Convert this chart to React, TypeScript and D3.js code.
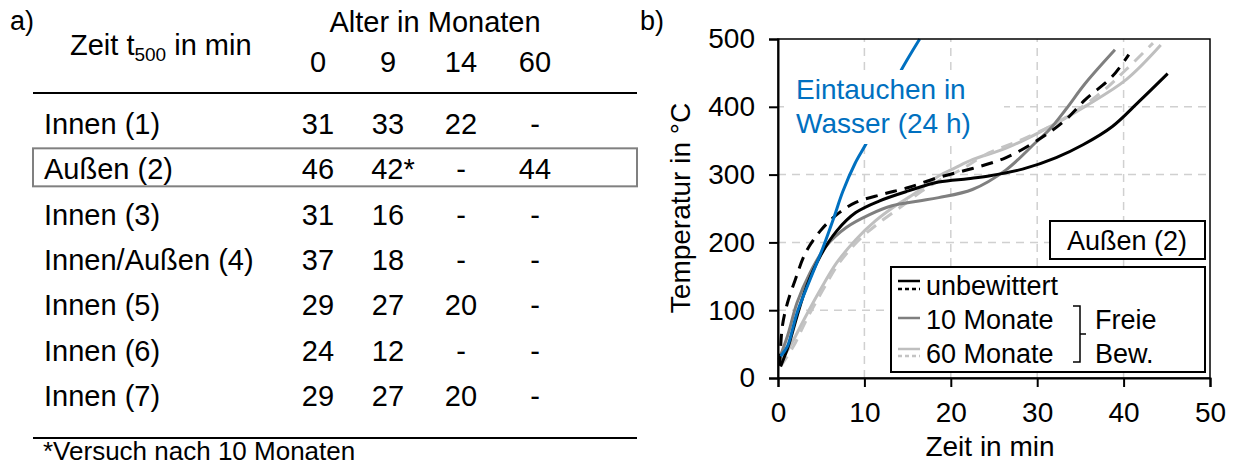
import React, { useEffect, useRef } from "react";
import * as d3 from "d3";

// table a)
const ageHeaders = ["0", "9", "14", "60"];
const rowLabels = ["Innen (1)", "Außen (2)", "Innen (3)", "Innen/Außen (4)", "Innen (5)", "Innen (6)", "Innen (7)"];
const t500Age0 = ["31", "46", "31", "37", "29", "24", "29"];
const t500Age9 = ["33", "42*", "16", "18", "27", "12", "27"];
const t500Age14 = ["22", "-", "-", "-", "20", "-", "20"];
const t500Age60 = ["-", "44", "-", "-", "-", "-", "-"];
const highlightRow = 1;

// chart b) : [Zeit in min, Temperatur in °C]
const unbewittertSolid: [number, number][] = [
  [0.3, 17], [1.2, 47], [2.2, 91], [3.3, 135], [4.9, 180], [6.8, 217], [9, 244], [11.7, 261],
  [15.1, 276], [18.6, 289], [22, 294], [24.4, 298], [28.3, 308], [32.2, 325], [35.3, 344],
  [38.7, 371], [41.8, 408], [45.1, 449],
];
const unbewittertDashed: [number, number][] = [
  [0.2, 18], [0.5, 76], [1.1, 111], [2, 145], [3.2, 185], [4.9, 217], [6.8, 241], [9, 259],
  [12.1, 271], [15.1, 281], [18.6, 296], [22.5, 309], [26.4, 325], [30.2, 352], [33.3, 381],
  [35.6, 411], [38.7, 445], [40.6, 477],
];
const monate10: [number, number][] = [
  [0.1, 27], [1.1, 62], [2.2, 111], [3.7, 155], [5.6, 195], [7.9, 222], [10.6, 241], [13.2, 254],
  [16.3, 261], [18.6, 266], [22.5, 278], [26.4, 307], [29.8, 347], [31.4, 366], [33.3, 396],
  [35.6, 435], [39, 484],
];
const monate60Solid: [number, number][] = [
  [0.1, 22], [1.4, 47], [3, 86], [4.9, 130], [6.8, 170], [9, 204], [11.3, 232], [13.6, 254],
  [15.9, 273], [18.6, 298], [20.5, 310], [22.5, 322], [26.4, 339], [30.2, 362], [35.6, 401],
  [40.3, 440], [44.3, 491],
];
const monate60Dashed: [number, number][] = [
  [0.3, 17], [1.8, 47], [3.3, 86], [5.2, 130], [7.1, 170], [9.4, 204], [11.7, 229], [14.4, 254],
  [16.7, 276], [18.9, 293], [21, 306], [24.4, 332], [28.3, 352], [33.3, 384], [37.6, 423],
  [40.3, 455], [43.4, 494],
];
const wasser: [number, number][] = [
  [0.3, 32], [1.1, 47], [2.2, 96], [3.7, 145], [5.2, 192], [6.4, 234], [7.5, 275], [8.9, 316],
  [10.3, 348], [12.1, 397], [14, 448], [16.4, 500],
];

const xTicks = [0, 10, 20, 30, 40, 50];
const yTicks = [0, 100, 200, 300, 400, 500];
const legendLabels = ["unbewittert", "10 Monate", "60 Monate"];
const bracketLabels = ["Freie", "Bew."];

const FONT = "'Liberation Sans', Arial, sans-serif";

function App() {
  const svgRef = useRef<SVGSVGElement>(null);

  useEffect(() => {
    if (!svgRef.current) return;
    const svg = d3.select(svgRef.current);
    svg.selectAll("*").remove();
    svg.style("font-family", FONT);

    // ---------- a) table ----------
    const fs = 29;
    const colX = [318, 388, 461, 535];
    const columns = [t500Age0, t500Age9, t500Age14, t500Age60];
    const rowY = d3.scaleLinear().domain([0, 6]).range([124, 396]);

    svg.append("text").attr("x", 10).attr("y", 30).attr("font-size", 27).text("a)");
    const zt = svg.append("text").attr("x", 70).attr("y", 55).attr("font-size", fs);
    zt.append("tspan").text("Zeit t");
    zt.append("tspan").attr("font-size", 19).attr("dy", 6).text("500");
    zt.append("tspan").attr("dy", -6).text(" in min");
    svg.append("text").attr("x", 435).attr("y", 32).attr("font-size", fs)
      .attr("text-anchor", "middle").text("Alter in Monaten");
    ageHeaders.forEach((h, i) => {
      svg.append("text").attr("x", colX[i]).attr("y", 72).attr("font-size", fs)
        .attr("text-anchor", "middle").text(h);
    });
    svg.append("line").attr("x1", 33).attr("x2", 637).attr("y1", 93).attr("y2", 93)
      .attr("stroke", "#000").attr("stroke-width", 2);
    svg.append("line").attr("x1", 33).attr("x2", 637).attr("y1", 438).attr("y2", 438)
      .attr("stroke", "#000").attr("stroke-width", 2);

    svg.append("rect").attr("x", 33).attr("y", rowY(highlightRow) - 21).attr("width", 604).attr("height", 38)
      .attr("fill", "none").attr("stroke", "#808080").attr("stroke-width", 2);

    rowLabels.forEach((lab, r) => {
      const y = rowY(r) + 10;
      svg.append("text").attr("x", 44).attr("y", y).attr("font-size", fs).text(lab);
      columns.forEach((col, c) => {
        const v = col[r];
        const star = v.endsWith("*");
        svg.append("text").attr("x", colX[c] + (star ? 5 : 0)).attr("y", y).attr("font-size", fs)
          .attr("text-anchor", "middle").text(v);
      });
    });
    svg.append("text").attr("x", 43).attr("y", 460).attr("font-size", 26).text("*Versuch nach 10 Monaten");

    // ---------- b) chart ----------
    const x = d3.scaleLinear().domain([0, 50]).range([778, 1210]);
    const y = d3.scaleLinear().domain([0, 500]).range([378, 39]);

    svg.append("text").attr("x", 640).attr("y", 30).attr("font-size", 27).text("b)");

    const grid = svg.append("g").attr("stroke", "#d0d0d0").attr("stroke-width", 1.5).attr("stroke-dasharray", "8,6");
    xTicks.filter((t) => t > 0 && t < 50).forEach((t) => {
      grid.append("line").attr("x1", x(t)).attr("x2", x(t)).attr("y1", y(0)).attr("y2", y(500));
    });
    yTicks.filter((t) => t > 0 && t < 500).forEach((t) => {
      grid.append("line").attr("x1", x(0)).attr("x2", x(50)).attr("y1", y(t)).attr("y2", y(t));
    });

    const line = d3.line<[number, number]>()
      .x((d) => x(d[0]))
      .y((d) => y(d[1]))
      .curve(d3.curveCatmullRom.alpha(0.5));

    const series = [
      { data: monate60Solid, color: "#bfbfbf", dash: null },
      { data: monate60Dashed, color: "#c4c4c4", dash: "12,8" },
      { data: monate10, color: "#7f7f7f", dash: null },
      { data: unbewittertSolid, color: "#000", dash: null },
      { data: unbewittertDashed, color: "#000", dash: "12,8" },
      { data: wasser, color: "#0070c0", dash: null },
    ];
    series.forEach((s) => {
      svg.append("path").attr("d", line(s.data)).attr("fill", "none")
        .attr("stroke", s.color).attr("stroke-width", 3)
        .attr("stroke-dasharray", s.dash);
    });

    // label box over the curve
    svg.append("rect").attr("x", 784).attr("y", 70).attr("width", 220).attr("height", 74).attr("fill", "#fff");
    svg.append("text").attr("x", 796).attr("y", 99).attr("font-size", 28).attr("fill", "#0070c0").text("Eintauchen in");
    svg.append("text").attr("x", 796).attr("y", 133).attr("font-size", 28).attr("fill", "#0070c0").text("Wasser (24 h)");

    // frame + axes
    svg.append("rect").attr("x", x(0)).attr("y", y(500)).attr("width", x(50) - x(0)).attr("height", y(0) - y(500))
      .attr("fill", "none").attr("stroke", "#000").attr("stroke-width", 1.5);

    const yAxis = svg.append("g").attr("transform", `translate(${x(0)},0)`)
      .call(d3.axisLeft(y).tickValues(yTicks).tickSize(9).tickPadding(14));
    const xAxis = svg.append("g").attr("transform", `translate(0,${y(0)})`)
      .call(d3.axisBottom(x).tickValues(xTicks).tickSize(9).tickPadding(10));
    [yAxis, xAxis].forEach((a) => {
      a.select(".domain").attr("stroke-width", 2);
      a.selectAll(".tick line").attr("stroke-width", 2);
      a.selectAll("text").attr("font-size", 28).attr("font-family", FONT).attr("fill", "#000");
    });
    xAxis.selectAll(".tick text").attr("dy", "0.9em");

    svg.append("text").attr("x", 990).attr("y", 456).attr("font-size", 28).attr("text-anchor", "middle").text("Zeit in min");
    svg.append("text").attr("transform", "translate(690,208) rotate(-90)").attr("font-size", 28)
      .attr("text-anchor", "middle").text("Temperatur in °C");

    // Außen (2) box
    svg.append("rect").attr("x", 1050).attr("y", 221).attr("width", 155).attr("height", 38)
      .attr("fill", "#fff").attr("stroke", "#000").attr("stroke-width", 2);
    svg.append("text").attr("x", 1127).attr("y", 250).attr("font-size", 27).attr("text-anchor", "middle").text("Außen (2)");

    // legend
    svg.append("rect").attr("x", 891).attr("y", 267).attr("width", 314).attr("height", 105)
      .attr("fill", "#fff").attr("stroke", "#000").attr("stroke-width", 2);
    const legendY = [285, 319, 353];
    const sampleLines = [
      [{ dy: -4, color: "#000", dash: null }, { dy: 4, color: "#000", dash: "4,3" }],
      [{ dy: -1, color: "#7f7f7f", dash: null }],
      [{ dy: -4, color: "#bfbfbf", dash: null }, { dy: 3, color: "#c4c4c4", dash: "4,3" }],
    ];
    legendLabels.forEach((lab, i) => {
      sampleLines[i].forEach((s) => {
        svg.append("line").attr("x1", 898).attr("x2", 920)
          .attr("y1", legendY[i] + s.dy).attr("y2", legendY[i] + s.dy)
          .attr("stroke", s.color).attr("stroke-width", 2.5).attr("stroke-dasharray", s.dash);
      });
      svg.append("text").attr("x", 926).attr("y", legendY[i] + 10).attr("font-size", 27).text(lab);
    });
    svg.append("path").attr("d", "M1073,306H1080V362H1073M1080,334H1086")
      .attr("fill", "none").attr("stroke", "#000").attr("stroke-width", 1.5);
    bracketLabels.forEach((lab, i) => {
      svg.append("text").attr("x", 1095).attr("y", legendY[i + 1] + 10).attr("font-size", 27).text(lab);
    });
  }, []);

  return (
    <svg ref={svgRef} width={1233} height={466}
      style={{ position: "absolute", left: 0, top: 0, background: "#fff" }} />
  );
}

export default App;
